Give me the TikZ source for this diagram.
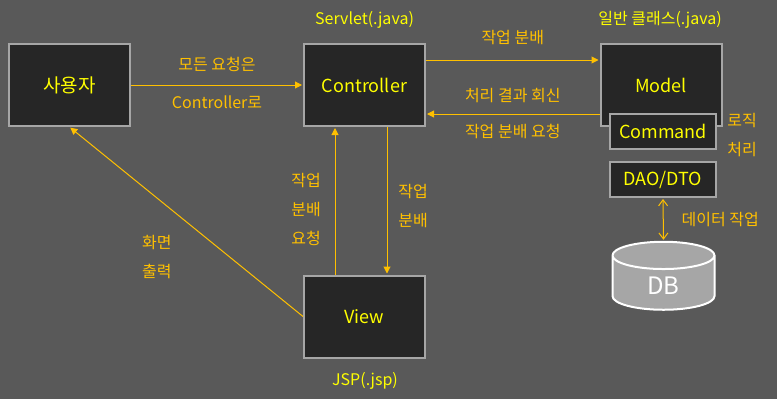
\documentclass[tikz,border=0pt]{standalone}
\usepackage{fontspec}
\setmainfont{Noto Sans CJK KR}
\usetikzlibrary{shapes.geometric,arrows.meta,positioning}
\definecolor{slidebg}{RGB}{89,89,89}
\definecolor{boxfill}{RGB}{38,38,38}
\definecolor{boxline}{RGB}{166,166,166}
\definecolor{mvcorange}{RGB}{255,192,0}
\definecolor{mvcyellow}{RGB}{255,255,0}

\begin{document}
\begin{tikzpicture}[x=1pt,y=-1pt,
  part/.style={draw=boxline,fill=boxfill,line width=2pt,rectangle,minimum width=121pt,minimum height=82pt,
               text=mvcyellow,font=\fontsize{18}{22}\selectfont},
  subpart/.style={part,minimum width=106pt,minimum height=35pt},
  lbl/.style={text=mvcorange,font=\fontsize{16}{29}\selectfont,align=center,inner sep=0pt},
  tag/.style={lbl,text=mvcyellow},
  arr/.style={-{Triangle[length=7pt,width=7pt]},line width=1pt,draw=mvcorange,shorten >=1pt},
  darr/.style={{Straight Barb[length=6pt,width=9pt]}-{Straight Barb[length=6pt,width=9pt]},
               line width=1pt,draw=mvcorange,shorten >=1pt,shorten <=1pt}
]
  % Background
  \fill[slidebg] (0,0) rectangle (777,399);
  \useasboundingbox (0,0) rectangle (777,399);
  % Parts
  \node[part,font=\fontsize{19}{23}\selectfont] (user) at (69.5,85) {사용자};
  \node[part] (ctrl) at (364.5,85) {Controller};
  \node[part] (model) at (661,85) {Model};
  \node[subpart] (cmd) at (663,131.5) {Command};
  \node[subpart] (dao) at (663,179.5) {DAO/DTO};
  \node[part] (view) at (364.5,316.5) {View};
  \node[cylinder,shape border rotate=90,aspect=0.7,draw=white,fill=boxline,line width=2pt,
        minimum width=102pt,minimum height=68pt,text=white,font=\fontsize{24}{28}\selectfont] (db) at (663.5,285.5) {DB};
  % Tags
  \node[tag] (servlet) at (364.5,20) {Servlet(.java)};
  \node[tag] (plain) at (660,20) {일반 클래스(.java)};
  \node[tag] (jsp) at (365,381) {JSP(.jsp)};
  \node[lbl] (logic) at (742,135) {로직\\처리};
  % Flows
  \draw[arr] (user) -- node[lbl,yshift=21pt]{모든 요청은} node[lbl,yshift=-17pt]{Controller로} (ctrl);
  \draw[arr] ([yshift=25pt]ctrl.east) -- node[lbl,yshift=22pt]{작업 분배} ([yshift=25pt]model.west);
  \draw[arr] ([yshift=-29pt]model.west) -- node[lbl,yshift=18pt]{처리 결과 회신}
    node[lbl,yshift=-17pt]{작업 분배 요청} ([yshift=-29pt]ctrl.east);
  \draw[arr] ([xshift=-29.5pt]view.north) -- node[lbl,xshift=-29pt,yshift=-8.5pt]{작업\\분배\\요청} ([xshift=-29.5pt]ctrl.south);
  \draw[arr] ([xshift=22.5pt]ctrl.south) -- node[lbl,xshift=26pt,yshift=-5pt]{작업\\분배} ([xshift=22.5pt]view.north);
  \draw[arr] (view.west) -- node[lbl,xshift=-29.5pt,yshift=-35.5pt]{화면\\출력} (user.south);
  \draw[darr] (dao.south) -- node[lbl,xshift=57pt]{데이터 작업} (db.top);
\end{tikzpicture}
\end{document}
